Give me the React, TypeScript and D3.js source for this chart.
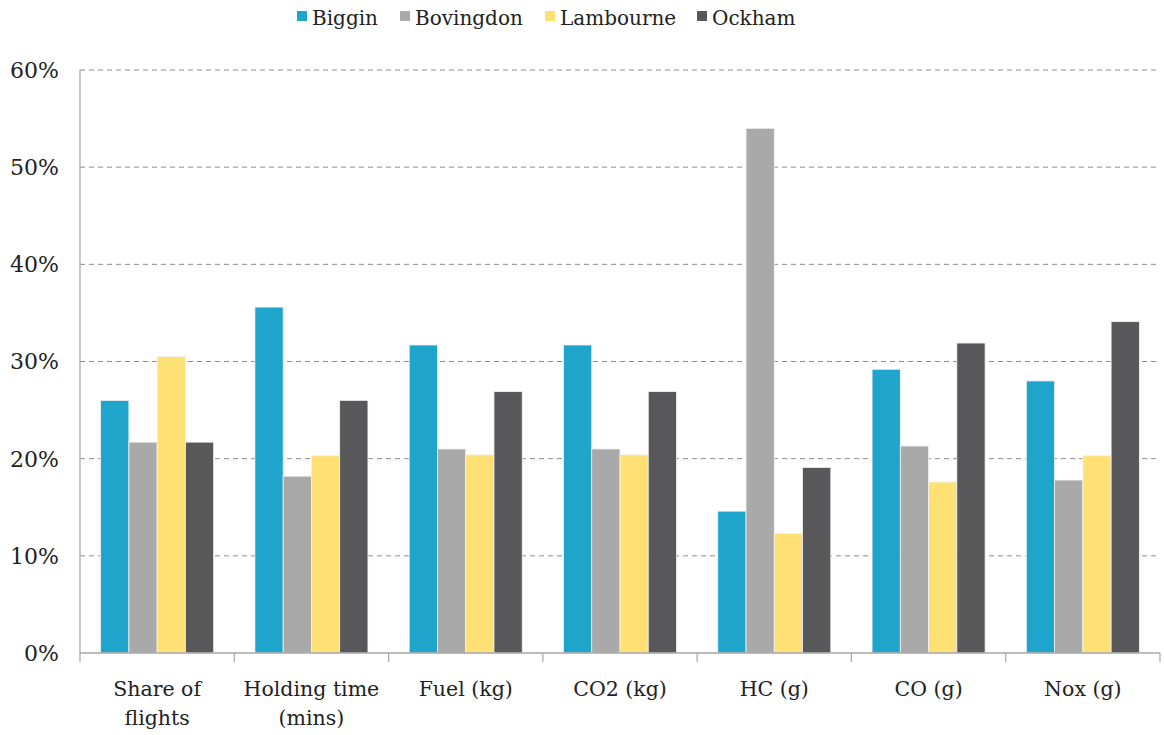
import React from "react";
import * as d3 from "d3";

const categories = ["Share of\nflights", "Holding time\n(mins)", "Fuel (kg)", "CO2 (kg)", "HC (g)", "CO (g)", "Nox (g)"];
const seriesNames = ["Biggin", "Bovingdon", "Lambourne", "Ockham"];
const biggin = [26.0, 35.6, 31.7, 31.7, 14.6, 29.2, 28.0];
const bovingdon = [21.7, 18.2, 21.0, 21.0, 54.0, 21.3, 17.8];
const lambourne = [30.5, 20.3, 20.4, 20.4, 12.3, 17.6, 20.3];
const ockham = [21.7, 26.0, 26.9, 26.9, 19.1, 31.9, 34.1];
const yTicks = [0, 10, 20, 30, 40, 50, 60];
const colors = ["#1FA5CB", "#A9A9A9", "#FFE075", "#58585A"];

const W = 1164, H = 735;
const left = 80, right = 1160, top = 70, bottom = 653;
const FONT = "'DejaVu Serif', serif";

export default function App() {
  const series = [biggin, bovingdon, lambourne, ockham];
  const x = d3.scaleBand<string>().domain(categories).range([left, right]).padding(0);
  const inner = d3.scaleBand<string>().domain(seriesNames).range([0, x.bandwidth()]).paddingInner(0).paddingOuter(0.73);
  const y = d3.scaleLinear().domain([0, 60]).range([bottom, top]);
  const legendX = [297, 400, 545, 697];

  return (
    <svg width={W} height={H} style={{ position: "absolute", left: 0, top: 0, background: "#fff" }}>
      {yTicks.map((t) => (
        <g key={t}>
          {t > 0 && (
            <line x1={left} x2={right} y1={y(t)} y2={y(t)} stroke="#8c8c8c" strokeWidth={1} strokeDasharray="5,4" />
          )}
          <text x={59} y={y(t)} dy="0.36em" textAnchor="end" fontFamily={FONT} fontSize={22} fill="#222">
            {t}%
          </text>
        </g>
      ))}
      {categories.map((c, ci) =>
        series.map((s, si) => (
          <rect
            key={c + si}
            x={(x(c) as number) + (inner(seriesNames[si]) as number)}
            y={y(s[ci])}
            width={inner.bandwidth()}
            height={bottom - y(s[ci])}
            fill={colors[si]}
            stroke="#f2f2f2"
            strokeWidth={0.8}
          />
        ))
      )}
      <line x1={left} x2={left} y1={top} y2={bottom} stroke="#a6a6a6" strokeWidth={1.2} />
      <line x1={left} x2={right} y1={bottom} y2={bottom} stroke="#a6a6a6" strokeWidth={1.5} />
      {categories.map((c) => (
        <line key={"t" + c} x1={x(c) as number} x2={x(c) as number} y1={bottom} y2={bottom + 9} stroke="#a6a6a6" strokeWidth={1.2} />
      ))}
      <line x1={right} x2={right} y1={bottom} y2={bottom + 9} stroke="#a6a6a6" strokeWidth={1.2} />
      {categories.map((c) => {
        const lines = c.split("\n");
        const cx = (x(c) as number) + x.bandwidth() / 2;
        return (
          <text key={"l" + c} x={cx} y={696} textAnchor="middle" fontFamily={FONT} fontSize={20.5} fill="#222">
            {lines.map((l, i) => (
              <tspan key={i} x={cx} dy={i === 0 ? 0 : 29}>{l}</tspan>
            ))}
          </text>
        );
      })}
      {seriesNames.map((n, i) => (
        <g key={n}>
          <rect x={legendX[i]} y={11} width={10} height={10} fill={colors[i]} />
          <text x={legendX[i] + 15} y={25} fontFamily={FONT} fontSize={20} fill="#222">{n}</text>
        </g>
      ))}
    </svg>
  );
}
